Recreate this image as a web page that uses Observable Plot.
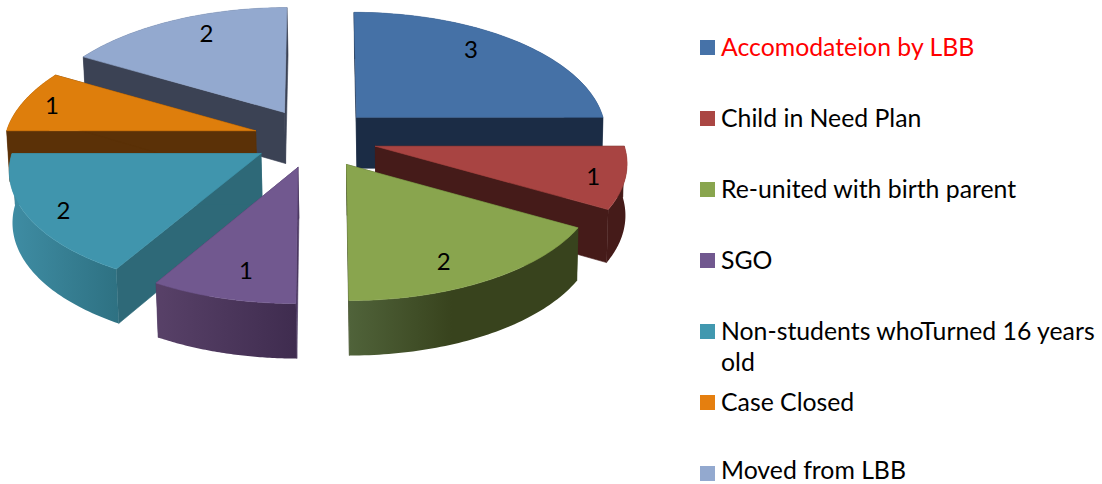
<!DOCTYPE html>
<html>
<head>
<meta charset="utf-8">
<style>html,body{margin:0;padding:0;background:#fff;overflow:hidden}</style>
<script src="https://cdn.jsdelivr.net/npm/d3@7"></script>
<script src="https://cdn.jsdelivr.net/npm/@observablehq/plot@0.6"></script>
</head>
<body>
<div id="chart"></div>
<script>
// Data
const categories = ["Accomodateion by LBB","Child in Need Plan","Re-united with birth parent","SGO","Non-students whoTurned 16 years\nold","Case Closed","Moved from LBB"];
const values = [3,1,2,1,2,1,2];

// Styles
const topColors  = ["#4571A6","#A84442","#89A54E","#71588F","#4095AD","#DE7E0C","#93A9CF"];
const wallColors = ["#1B2C45","#451B19","#38431D","#4A3760","#2E6978","#5B3107","#3B4254"];
const rimStops   = [["#1B2C45","#1B2C45"],["#451B19","#451B19"],["#50633A","#38431D"],["#584168","#3F2C4F"],["#3F8DA4","#2E7182"],["#5B3107","#5B3107"],["#3B4254","#3B4254"]];
const swatchColors = ["#4672A8","#AA4643","#89A54E","#71588F","#4198AF","#E57F0F","#93A9CF"];
const textColors = ["#FF0000","#000","#000","#000","#000","#000","#000"];
const FONT = "Lato, 'Open Sans', sans-serif";

// Projection parameters of the tilted pie
const centre = {x:315, y:138};
const rx = 249, ry = 118.5, persp = 0.129, vanishX = 320, lean = 0.6;
const explodeX = [58,62,62,68,63,62,62], explodeY = 30;
const radiusScale = [.99,1,1,1,1,1,1];
const labelRadius = [.79,.88,.82,.81,.87,.87,.80];
const labelTurn   = [-5,2,5,-2,-2,-1,4];
const rad = d => d*Math.PI/180;
const total = d3.sum(values);
const cum = d3.cumsum(values);

const slices = values.map((v,i)=>{
  const a0 = (cum[i]-v)/total*360, a1 = cum[i]/total*360, mid=(a0+a1)/2;
  const apex = {x:centre.x+explodeX[i]*Math.sin(rad(mid)), y:centre.y-explodeY*Math.cos(rad(mid))};
  return {i,v,a0,a1,mid,apex};
});
const onTop = (s,a,f=1)=>{
  const X=f*Math.sin(rad(a)), Yf=-f*Math.cos(rad(a)), w=1-persp*Yf;
  return {x:s.apex.x+rx*radiusScale[s.i]*X/w+(s.apex.x-vanishX)*(1/w-1)*lean, y:s.apex.y+ry*Yf/w, Yf};
};
const drop = p => ({x:p.x+(420-p.x)*0.008, y:p.y+51+4*(p.Yf||0)});
const arc = (s,a0,a1)=>d3.range(0,61).map(k=>onTop(s,a0+(a1-a0)*k/60));

const marks = [];
const poly = (pts,fill)=>marks.push(Plot.line([...pts,pts[0]],{x:"x",y:"y",fill,stroke:fill.startsWith("url")?"none":fill,strokeWidth:.6,curve:"linear"}));

[...slices].sort((a,b)=>a.apex.y-b.apex.y).forEach(s=>{
  const A={x:s.apex.x,y:s.apex.y,Yf:0};
  const P0=onTop(s,s.a0), P1=onTop(s,s.a1);
  const wall=wallColors[s.i];
  poly([A,P0,drop(P0),drop(A)],wall);
  poly([A,P1,drop(P1),drop(A)],wall);
  const top=arc(s,s.a0,s.a1);
  poly([...top,...top.slice().reverse().map(drop)],`url(#rim${s.i})`);
  poly([A,...top],topColors[s.i]);
});

const labels = slices.map(s=>{
  const p=onTop(s,s.mid+labelTurn[s.i],labelRadius[s.i]);
  return {x:p.x,y:p.y,text:String(s.v)};
});

const legendX=700, legendY=47.5, legendStep=71, legendBox=15, lineGap=31, textGap=20.5, textFloor=471;
const legendRows=categories.map((c,i)=>({i,y:legendY+i*legendStep,fill:swatchColors[i]}));
const legendLines=categories.flatMap((c,i)=>c.split("\n").map((t,j)=>({t,y:Math.min(textFloor,legendY+i*legendStep+j*lineGap-.4),color:textColors[i]})));

marks.push(Plot.text(labels,{x:"x",y:"y",text:"text",fill:"#000",fontSize:24,fontFamily:FONT}));
marks.push(Plot.rect(legendRows,{x1:()=>legendX,x2:()=>legendX+legendBox,y1:d=>d.y-legendBox/2,y2:d=>d.y+legendBox/2,fill:d=>d.fill}));
marks.push(Plot.text(legendLines,{x:()=>legendX+textGap,y:"y",text:"t",fill:d=>d.color,textAnchor:"start",fontSize:24.8,fontFamily:FONT}));

const svg = Plot.plot({
  width:1102,height:484,margin:0,
  x:{domain:[0,1102],range:[0,1102],axis:null},
  y:{domain:[0,484],range:[0,484],axis:null},
  style:{background:"#fff"},
  marks
});
const defs=d3.select(svg).insert("defs",":first-child");
rimStops.forEach((st,i)=>{
  const g=defs.append("linearGradient").attr("id","rim"+i).attr("x1",0).attr("x2",1).attr("y1",0).attr("y2",0);
  g.append("stop").attr("offset","0%").attr("stop-color",st[0]);
  g.append("stop").attr("offset",i===2?"45%":"100%").attr("stop-color",st[1]);
});
document.getElementById("chart").append(svg);
</script>
</body>
</html>
